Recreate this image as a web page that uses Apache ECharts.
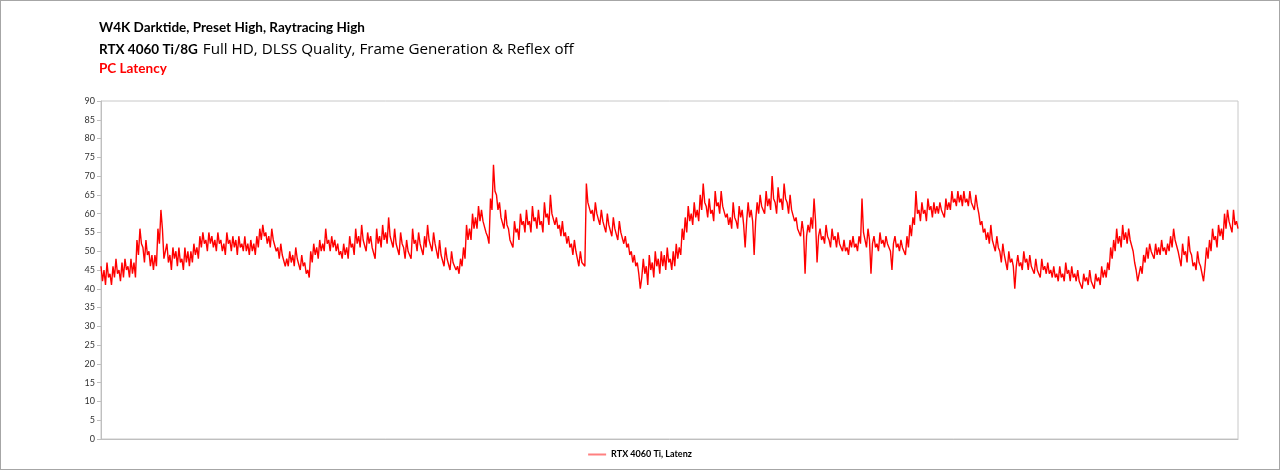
<!DOCTYPE html>
<html>
<head>
<meta charset="utf-8">
<script src="https://cdn.jsdelivr.net/npm/echarts@6/dist/echarts.min.js"></script>
<style>
  html, body { margin: 0; padding: 0; background: #fff; }
  #chart { width: 1278px; height: 468px; border: 1px solid #a6a6a6; }
</style>
</head>
<body>
<div id="chart"></div>
<script>
var titleLine1 = 'W4K Darktide, Preset High, Raytracing High';
var titleGpu = 'RTX 4060 Ti/8G';
var titleRest = 'Full HD, DLSS Quality, Frame Generation & Reflex off';
var titleMetric = 'PC Latency';
var seriesName = 'RTX 4060 Ti, Latenz';
var yTicks = [0, 90, 5]; // min, max, step

// latency samples (ms) left to right, upper/lower edge of the noise band
var latency = [
  46,42,45,41,47,43,44,41,46,43,48,44,45,42,47,43,48,45,46,43,
  48,44,47,43,53,49,56,52,51,47,53,49,50,46,49,45,49,46,56,52,
  61,56,48,50,52,47,49,45,51,48,50,46,51,47,48,45,51,47,50,46,
  50,47,52,49,51,48,54,51,55,52,53,50,55,52,54,51,53,50,55,52,
  53,50,52,49,55,52,53,50,54,51,53,49,54,51,52,50,54,50,52,49,
  53,50,52,49,54,51,56,53,57,54,55,52,54,51,56,53,53,50,51,48,
  52,49,49,46,48,46,50,47,49,46,51,48,48,45,49,46,47,44,45,43,
  50,47,52,49,51,48,53,50,52,50,56,52,53,50,54,51,53,50,52,49,
  50,48,52,49,51,48,54,51,52,49,56,52,54,51,57,53,53,50,55,52,
  54,51,51,48,56,52,54,51,57,53,55,52,59,54,54,51,56,52,52,49,
  55,52,51,48,53,50,50,48,56,52,53,50,55,52,52,49,54,51,57,53,
  53,50,55,52,50,48,53,49,49,46,51,48,48,45,50,47,47,45,46,44,
  48,46,51,48,57,53,56,53,60,56,59,56,62,58,61,58,58,55,54,52,
  64,61,73,66,65,61,63,59,59,56,61,57,56,53,53,51,58,55,56,53,
  60,57,58,55,61,57,58,55,62,58,59,56,61,57,58,55,63,59,60,57,
  65,60,60,57,59,56,57,54,58,54,55,52,54,51,52,49,53,50,48,46,
  50,47,47,46,68,63,63,60,61,58,63,60,60,57,61,58,58,55,60,57,
  57,54,59,56,56,53,58,55,55,52,54,51,52,49,50,47,49,46,47,44,
  40,43,48,44,46,41,49,45,47,43,50,46,48,44,50,46,49,45,51,47,
  48,45,50,46,52,48,51,49,56,53,59,55,62,58,60,57,63,59,61,58,
  65,61,68,63,62,59,64,60,61,58,66,62,63,60,66,62,62,59,60,57,
  59,56,63,59,58,56,62,59,61,57,51,58,63,59,61,58,49,58,63,60,
  65,62,62,60,66,62,64,61,70,64,63,60,67,63,64,61,68,64,63,60,
  65,61,61,58,59,56,56,54,58,55,44,54,57,55,59,56,64,58,47,54,
  56,53,54,52,57,54,53,51,56,53,54,51,55,52,52,50,53,50,51,49,
  53,51,54,51,52,50,54,52,64,55,53,51,56,53,44,52,54,51,52,50,
  55,52,53,51,54,52,52,50,45,52,54,51,52,50,53,51,51,49,54,51,
  57,54,59,57,66,60,61,58,63,60,61,58,64,61,62,59,63,60,62,60,
  63,61,61,59,64,61,63,61,66,63,64,62,66,63,65,62,66,63,64,62,
  66,63,63,61,65,62,60,57,58,55,56,53,55,52,57,53,53,50,54,51,
  50,47,52,49,47,45,50,47,48,46,40,46,49,46,47,45,50,47,48,45,
  49,46,46,44,48,45,45,43,48,45,46,44,47,44,45,43,46,43,44,42,
  46,43,44,42,47,44,45,42,46,43,44,42,45,42,42,40,44,42,43,41,
  45,42,42,40,44,42,43,41,46,43,45,43,47,45,51,48,53,50,56,52,
  54,51,57,53,55,52,56,53,53,50,47,45,42,44,46,44,49,47,51,48,
  52,50,50,48,52,49,51,49,53,50,51,49,52,50,54,51,56,53,53,50,
  48,46,52,49,50,47,54,50,49,46,47,45,50,47,46,44,42,46,51,48,
  53,50,56,53,54,51,57,54,56,53,60,56,61,58,58,55,61,57,58,56
];

var samples = latency.map(function (v, i) { return i + 1; });

var myChart = echarts.init(document.getElementById('chart'));

var boldFont = { fontFamily: 'Lato', fontSize: 13.5, fontWeight: 700, color: '#000' };

option = {
    animation: false,
    backgroundColor: '#ffffff',
    title: [
        {
            text: titleLine1,
            left: 93, top: 15,
            textStyle: boldFont
        },
        {
            text: '{b|' + titleGpu + '} {n|' + titleRest + '}',
            left: 93, top: 35,
            textStyle: {
                fontWeight: 'normal',
                rich: {
                    b: boldFont,
                    n: { fontFamily: 'Open Sans', fontSize: 15.2, fontWeight: 'normal', color: '#000' }
                }
            }
        },
        {
            text: titleMetric,
            left: 93, top: 56,
            textStyle: { fontFamily: 'Lato', fontSize: 13.5, fontWeight: 700, color: '#ff0000' }
        }
    ],
    grid: {
        show: true,
        left: 100, right: 41, top: 100, bottom: 30,
        borderColor: '#c8c8c8', borderWidth: 1
    },
    legend: {
        bottom: 5,
        left: 'center',
        icon: 'rect',
        itemWidth: 18, itemHeight: 2,
        textStyle: { fontFamily: 'Lato', fontSize: 9, fontWeight: 700, color: '#000' },
        data: [{ name: seriesName, itemStyle: { color: '#ff8080' } }]
    },
    xAxis: {
        type: 'category',
        data: samples,
        boundaryGap: false,
        axisLine: { lineStyle: { color: '#bfbfbf' } },
        axisTick: { show: false },
        axisLabel: { show: false },
        splitLine: { show: false }
    },
    yAxis: {
        type: 'value',
        min: yTicks[0], max: yTicks[1], interval: yTicks[2],
        axisLine: { show: true, lineStyle: { color: '#bfbfbf' } },
        axisTick: { show: true, length: 4, lineStyle: { color: '#bfbfbf' } },
        axisLabel: { fontFamily: 'Lato', fontSize: 9, color: '#333', margin: 6 },
        splitLine: { show: false }
    },
    series: [{
        name: seriesName,
        type: 'line',
        data: latency,
        showSymbol: false,
        lineStyle: { color: '#ff0000', width: 1.4 },
        itemStyle: { color: '#ff0000' }
    }]
};

myChart.setOption(option);
</script>
</body>
</html>
